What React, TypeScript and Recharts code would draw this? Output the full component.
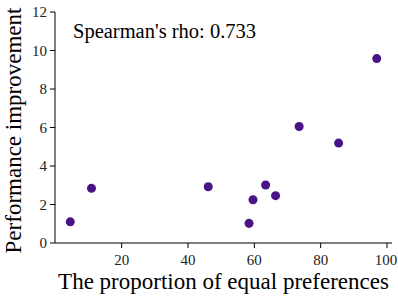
import React from 'react';
import { ScatterChart, Scatter, XAxis, YAxis, ZAxis } from 'recharts';

// proportion of equal preferences (%) vs performance improvement
const proportion = [4.5, 10.9, 46.1, 58.4, 59.6, 63.4, 66.4, 73.5, 85.4, 96.9];
const improvement = [1.1, 2.84, 2.92, 1.02, 2.25, 3.01, 2.46, 6.05, 5.19, 9.58];
const xTicks = [20, 40, 60, 80, 100];
const yTicks = [0, 2, 4, 6, 8, 10, 12];
const rhoText = "Spearman's rho: 0.733";

const data = proportion.map((p, i) => ({ x: p, y: improvement[i] }));

const FONT = '"Liberation Serif", "Times New Roman", serif';

const XTick = ({ x, y, payload }: any) => (
  <text x={x} y={y + 13} textAnchor="middle" fontFamily={FONT} fontSize={15} fill="#222">
    {payload.value}
  </text>
);

const YTick = ({ x, y, payload }: any) => (
  <text x={x} y={y + 5} textAnchor="end" fontFamily={FONT} fontSize={15} fill="#222">
    {payload.value}
  </text>
);

const YLabel = ({ viewBox }: any) => {
  // nudged a little so the long label stays inside the picture
  const cy = viewBox.y + viewBox.height / 2 + 3;
  return (
    <text
      x={0}
      y={0}
      transform={`translate(20.5, ${cy}) rotate(-90)`}
      textAnchor="middle"
      fontFamily={FONT}
      fontSize={23}
      fill="#000"
    >
      Performance improvement
    </text>
  );
};

const XLabel = ({ viewBox }: any) => (
  <text
    x={viewBox.x + viewBox.width / 2}
    y={289}
    textAnchor="middle"
    fontFamily={FONT}
    fontSize={23}
    fill="#000"
  >
    The proportion of equal preferences
  </text>
);

const App: React.FC = () => {
  return (
    <div style={{ position: 'absolute', left: 0, top: 0, background: '#fff' }}>
      <ScatterChart width={398} height={297} margin={{ top: 12, right: 6, bottom: 0, left: 0 }}>
        <XAxis
          type="number"
          dataKey="x"
          domain={[-0.1, 101.5]}
          ticks={xTicks}
          allowDataOverflow
          height={54}
          stroke="#000"
          tickSize={5}
          tickMargin={4}
          tick={<XTick />}
          label={<XLabel />}
        />
        <XAxis
          xAxisId="top"
          type="number"
          orientation="top"
          domain={[0, 1]}
          height={0}
          tick={false}
          tickLine={false}
          stroke="#777"
        />
        <YAxis
          type="number"
          dataKey="y"
          domain={[0, 12]}
          ticks={yTicks}
          allowDataOverflow
          width={55}
          stroke="#000"
          tickSize={5}
          tickMargin={3}
          tick={<YTick />}
          label={<YLabel />}
        />
        <YAxis
          yAxisId="right"
          type="number"
          orientation="right"
          domain={[0, 1]}
          width={0}
          tick={false}
          tickLine={false}
          stroke="#777"
        />
        <ZAxis range={[110, 110]} />
        <Scatter data={data} fill="#4a1486" isAnimationActive={false} />
        <text x={73} y={38} fontFamily={FONT} fontSize={20.5} fill="#000">
          {rhoText}
        </text>
      </ScatterChart>
    </div>
  );
};

export default App;
